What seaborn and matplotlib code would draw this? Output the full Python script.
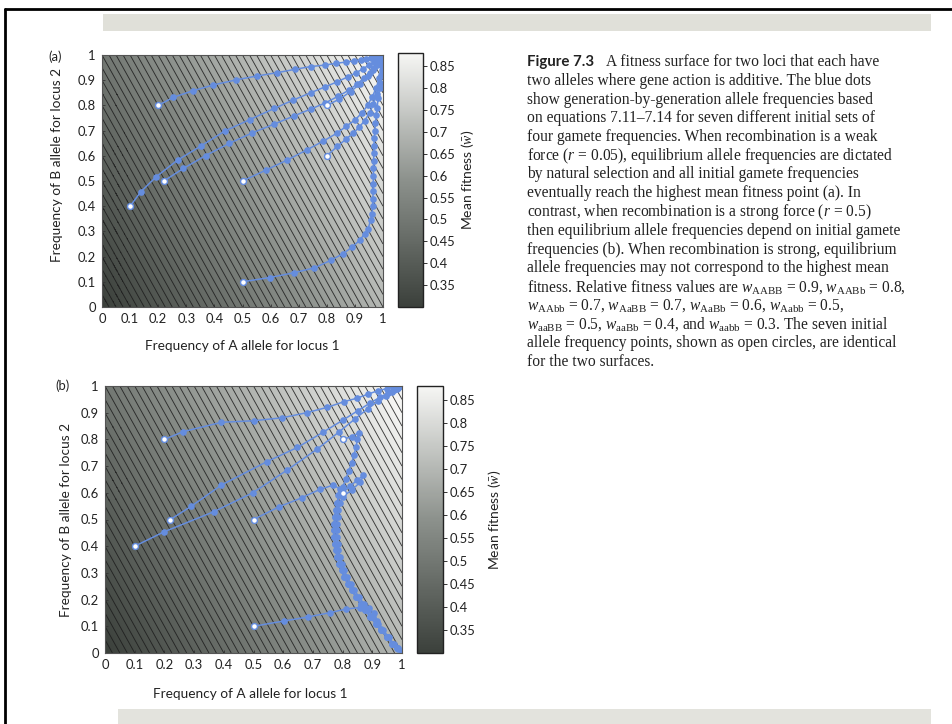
import numpy as np
import pandas as pd
import matplotlib
matplotlib.use("Agg")
import matplotlib.pyplot as plt
import seaborn as sns
from matplotlib.colors import LinearSegmentedColormap
from matplotlib.patches import Rectangle
from matplotlib.lines import Line2D

# relative genotype fitness values from the caption (rows: AA, Aa, aa; cols: BB, Bb, bb)
w_AA = [0.9, 0.8, 0.7]
w_Aa = [0.7, 0.6, 0.5]
w_aa = [0.5, 0.4, 0.3]

# seven initial allele frequencies (open circles), same for both panels
start_p = [0.2, 0.1, 0.22, 0.5, 0.8, 0.8, 0.5]
start_q = [0.8, 0.4, 0.5, 0.5, 0.6, 0.8, 0.1]

# (a) r = 0.05 : trajectories
a1 = [(0.2, 0.8), (0.254, 0.832), (0.323, 0.858), (0.396, 0.881), (0.476, 0.901), (0.553, 0.917),
      (0.624, 0.930), (0.686, 0.943), (0.742, 0.954), (0.793, 0.960), (0.834, 0.967), (0.867, 0.972),
      (0.897, 0.977), (0.92, 0.981), (0.94, 0.986), (0.957, 0.99), (0.97, 0.993), (0.982, 0.996), (1, 1)]
a2 = [(0.1, 0.4), (0.138, 0.457), (0.193, 0.517), (0.269, 0.583), (0.351, 0.638), (0.438, 0.699),
      (0.527, 0.744), (0.613, 0.788), (0.680, 0.821), (0.742, 0.850), (0.795, 0.874), (0.838, 0.894),
      (0.876, 0.914), (0.905, 0.930), (0.93, 0.946), (0.95, 0.96), (0.967, 0.972), (0.98, 0.982),
      (0.99, 0.991), (1, 1)]
a3 = [(0.22, 0.5), (0.29, 0.55), (0.369, 0.601), (0.452, 0.649), (0.535, 0.691), (0.613, 0.726),
      (0.683, 0.758), (0.742, 0.785), (0.795, 0.81), (0.84, 0.836), (0.878, 0.86), (0.908, 0.885),
      (0.932, 0.908), (0.952, 0.93), (0.968, 0.95), (0.98, 0.967), (0.99, 0.983), (1, 1)]
a4 = [(0.5, 0.5), (0.583, 0.543), (0.659, 0.583), (0.728, 0.623), (0.787, 0.658), (0.838, 0.691),
      (0.870, 0.718), (0.9, 0.742), (0.925, 0.77), (0.945, 0.8), (0.962, 0.835), (0.976, 0.87),
      (0.987, 0.91), (0.995, 0.955), (1, 1)]
a5 = [(0.8, 0.6), (0.838, 0.638), (0.867, 0.665), (0.893, 0.689), (0.915, 0.713), (0.935, 0.74),
      (0.952, 0.77), (0.966, 0.805), (0.978, 0.845), (0.988, 0.89), (0.995, 0.94), (1, 1)]
a6 = [(0.8, 0.8), (0.845, 0.825), (0.885, 0.855), (0.918, 0.885), (0.945, 0.915), (0.965, 0.94),
      (0.98, 0.962), (0.992, 0.982), (1, 1)]
a7 = [(0.5, 0.1), (0.598, 0.117), (0.683, 0.136), (0.755, 0.155), (0.814, 0.185), (0.858, 0.212),
      (0.891, 0.238), (0.917, 0.265), (0.935, 0.291), (0.947, 0.311), (0.956, 0.344), (0.961, 0.37),
      (0.963, 0.40), (0.964, 0.43), (0.965, 0.46), (0.965, 0.49), (0.966, 0.52), (0.966, 0.55),
      (0.967, 0.58), (0.967, 0.61), (0.968, 0.64), (0.969, 0.67), (0.971, 0.70), (0.973, 0.73),
      (0.976, 0.76), (0.979, 0.79), (0.983, 0.83), (0.988, 0.87), (0.993, 0.92), (0.997, 0.96), (1, 1)]

# (b) r = 0.5
b1 = [(0.2, 0.8), (0.263, 0.829), (0.392, 0.864), (0.502, 0.87), (0.597, 0.881), (0.679, 0.9),
      (0.748, 0.92), (0.804, 0.941), (0.847, 0.954), (0.887, 0.97), (0.92, 0.983), (0.948, 0.99),
      (0.97, 0.995), (0.988, 0.998), (1, 1)]
b2 = [(0.1, 0.4), (0.199, 0.454), (0.366, 0.529), (0.499, 0.601), (0.613, 0.685), (0.715, 0.764),
      (0.789, 0.829), (0.843, 0.878), (0.885, 0.915), (0.918, 0.943), (0.945, 0.963), (0.966, 0.978),
      (0.982, 0.99), (1, 1)]
b3 = [(0.22, 0.5), (0.291, 0.55), (0.392, 0.629), (0.544, 0.716), (0.648, 0.77), (0.733, 0.826),
      (0.802, 0.873), (0.852, 0.908), (0.892, 0.936), (0.925, 0.957), (0.952, 0.973), (0.972, 0.985),
      (0.988, 0.994), (1, 1)]
# thick converging band of panel (b): its inner and outer edge
crescent_in = [(0.782, 0.56), (0.777, 0.535), (0.774, 0.51), (0.772, 0.485), (0.771, 0.46),
               (0.772, 0.435), (0.774, 0.41), (0.777, 0.385), (0.782, 0.36), (0.789, 0.335),
               (0.797, 0.31), (0.805, 0.285), (0.817, 0.26), (0.83, 0.235), (0.845, 0.21),
               (0.861, 0.185), (0.877, 0.16), (0.893, 0.135), (0.911, 0.11), (0.93, 0.085),
               (0.949, 0.06), (0.968, 0.035), (0.984, 0.017), (1.0, 0.0)]
crescent_out = [(0.79, 0.56), (0.786, 0.535), (0.783, 0.51), (0.781, 0.485), (0.78, 0.46),
                (0.781, 0.435), (0.783, 0.41), (0.786, 0.385), (0.791, 0.36), (0.798, 0.335),
                (0.806, 0.31), (0.815, 0.285), (0.827, 0.26), (0.84, 0.235), (0.855, 0.21),
                (0.871, 0.185), (0.886, 0.16), (0.902, 0.135), (0.919, 0.11), (0.937, 0.085),
                (0.955, 0.06), (0.972, 0.035), (0.987, 0.017), (1.0, 0.0)]
b4 = [(0.5, 0.5), (0.587, 0.548), (0.662, 0.581), (0.724, 0.613), (0.769, 0.629), (0.79, 0.615),
      (0.786, 0.59)] + crescent_in
b5 = [(0.8, 0.6), (0.825, 0.625), (0.85, 0.648), (0.87, 0.665), (0.86, 0.64), (0.83, 0.61),
      (0.8, 0.585)] + crescent_out
b6 = [(0.8, 0.8), (0.83, 0.81), (0.855, 0.825), (0.85, 0.80), (0.845, 0.77), (0.838, 0.74),
      (0.83, 0.71), (0.82, 0.68), (0.81, 0.65), (0.8, 0.62), (0.79, 0.59)] + crescent_in
b7 = [(0.5, 0.1), (0.603, 0.12), (0.684, 0.135), (0.757, 0.151), (0.813, 0.165), (0.858, 0.17),
      (0.89, 0.168), (0.905, 0.15), (0.915, 0.12), (0.93, 0.09), (0.95, 0.06), (0.968, 0.035),
      (0.985, 0.015), (1, 0)]

axis_ticks = [0, 0.1, 0.2, 0.3, 0.4, 0.5, 0.6, 0.7, 0.8, 0.9, 1]
axis_labels = ['0', '0.1', '0.2', '0.3', '0.4', '0.5', '0.6', '0.7', '0.8', '0.9', '1']
cbar_ticks = [0.35, 0.4, 0.45, 0.5, 0.55, 0.6, 0.65, 0.7, 0.75, 0.8, 0.85]
cbar_labels = ['0.35', '0.4', '0.45', '0.5', '0.55', '0.6', '0.65', '0.7', '0.75', '0.8', '0.85']

caption = [
    "two alleles where gene action is additive. The blue dots",
    "show generation-by-generation allele frequencies based",
    "on equations 7.11\u20137.14 for seven different initial sets of",
    "four gamete frequencies. When recombination is a weak",
    "force ($r$ = 0.05), equilibrium allele frequencies are dictated",
    "by natural selection and all initial gamete frequencies",
    "eventually reach the highest mean fitness point (a). In",
    "contrast, when recombination is a strong force ($r$ = 0.5)",
    "then equilibrium allele frequencies depend on initial gamete",
    "frequencies (b). When recombination is strong, equilibrium",
    "allele frequencies may not correspond to the highest mean",
    r"fitness. Relative fitness values are $w_{\mathrm{AABB}}$ = 0.9, $w_{\mathrm{AABb}}$ = 0.8,",
    r"$w_{\mathrm{AAbb}}$ = 0.7, $w_{\mathrm{AaBB}}$ = 0.7, $w_{\mathrm{AaBb}}$ = 0.6, $w_{\mathrm{Aabb}}$ = 0.5,",
    r"$w_{\mathrm{aaBB}}$ = 0.5, $w_{\mathrm{aaBb}}$ = 0.4, and $w_{\mathrm{aabb}}$ = 0.3. The seven initial",
    "allele frequency points, shown as open circles, are identical",
    "for the two surfaces.",
]

sns.set_theme(style="white")
plt.rcParams['font.family'] = ['Lato', 'DejaVu Sans']
plt.rcParams['mathtext.fontset'] = 'custom'
plt.rcParams['mathtext.rm'] = 'Liberation Serif'
plt.rcParams['mathtext.it'] = 'Liberation Serif:italic'

W, H = 952, 724
fig = plt.figure(figsize=(W / 100, H / 100), dpi=100)
fig.patch.set_facecolor('white')


def px(x0, y0, x1, y1):
    return [x0 / W, 1 - y1 / H, (x1 - x0) / W, (y1 - y0) / H]


# page frame and grey bands of the scan
fig.add_artist(Rectangle((103 / W, 1 - 31 / H), 828 / W, 17 / H, transform=fig.transFigure,
                         color='#e0e0d9', lw=0, zorder=0))
fig.add_artist(Rectangle((118 / W, 0), 813 / W, 15 / H, transform=fig.transFigure,
                         color='#e3e3dd', lw=0, zorder=0))
fig.add_artist(Line2D([5 / W, 1], [1 - 9 / H, 1 - 9 / H], transform=fig.transFigure, color='black', lw=2))
fig.add_artist(Line2D([5 / W, 5 / W], [0, 1 - 9 / H], transform=fig.transFigure, color='black', lw=2))

# mean fitness surface from genotype fitnesses (HW and linkage equilibrium)
grid = np.linspace(0, 1, 301)
P, Q = np.meshgrid(grid, grid)
fa = [P ** 2, 2 * P * (1 - P), (1 - P) ** 2]
fb = [Q ** 2, 2 * Q * (1 - Q), (1 - Q) ** 2]
wmat = [w_AA, w_Aa, w_aa]
wbar = sum(fa[i] * fb[j] * wmat[i][j] for i in range(3) for j in range(3))

cmap = LinearSegmentedColormap.from_list('scan', ['#3b403b', '#8c918c', '#f6f6f4'])
blue = '#658dde'


def traj_frame(trajs):
    rows = []
    for k, t in enumerate(trajs):
        for step, (p, q) in enumerate(t):
            rows.append({'traj': k, 'step': step, 'p': p, 'q': q})
    return pd.DataFrame(rows)


panels = [
    ('(a)', [a1, a2, a3, a4, a5, a6, a7], px(102, 55, 383, 307), px(398, 53, 423, 307),
     (55, 57), (-0.139, 0.565), (0.498, -0.13), 2.45),
    ('(b)', [b1, b2, b3, b4, b5, b6, b7], px(105, 386, 402, 653), px(417, 386, 443, 653),
     (63, 386), (-0.111, 0.5), (0.49, -0.13), 2.65),
]

for tag, trajs, rect, crect, tagpos, ylab, xlab, cbx in panels:
    ax = fig.add_axes(rect)
    im = ax.imshow(wbar, extent=[0, 1, 0, 1], origin='lower', cmap=cmap, vmin=0.3, vmax=0.88,
                   aspect='auto', interpolation='bilinear')
    ax.contour(P, Q, wbar, levels=np.arange(0.31, 0.9, 0.01), colors='#1c1c1c',
               linewidths=0.65, alpha=0.85)
    df = traj_frame(trajs)
    sns.lineplot(data=df, x='p', y='q', units='traj', estimator=None, sort=False, color=blue,
                 lw=1.1, marker='o', markersize=4.8, markeredgewidth=0, ax=ax, legend=False)
    sns.scatterplot(x=start_p, y=start_q, ax=ax, color='white', edgecolor=blue, s=18,
                    linewidth=1.0, zorder=5)
    ax.set_xlim(0, 1)
    ax.set_ylim(0, 1)
    ax.set_xticks(axis_ticks)
    ax.set_xticklabels(axis_labels)
    ax.set_yticks(axis_ticks)
    ax.set_yticklabels(axis_labels)
    ax.tick_params(direction='in', length=2.5, width=0.6, color='#333333', labelsize=9.4,
                   pad=4.5, left=True, bottom=True, labelcolor='#222222')
    for s in ax.spines.values():
        s.set_color('#555555')
        s.set_linewidth(0.8)
    ax.set_xlabel('Frequency of A allele for locus 1', fontsize=9.8, color='#222222')
    ax.set_ylabel('Frequency of B allele for locus 2', fontsize=9.8, color='#222222')
    ax.xaxis.set_label_coords(*xlab)
    ax.yaxis.set_label_coords(*ylab)
    fig.text(tagpos[0] / W, 1 - tagpos[1] / H, tag, fontsize=9.4, ha='center', va='center',
             color='#222222')

    cax = fig.add_axes(crect)
    cb = fig.colorbar(im, cax=cax)
    cb.set_ticks(cbar_ticks)
    cb.set_ticklabels(cbar_labels)
    cb.outline.set_linewidth(1.0)
    cb.outline.set_edgecolor('#222222')
    cax.tick_params(direction='inout', length=6, width=0.7, color='#333333', labelsize=9.4,
                    pad=1.5, right=True, labelcolor='#222222')
    cb.set_label(r'Mean fitness ($\bar{w}$)', fontsize=10, color='#222222')
    cax.yaxis.set_label_coords(cbx, 0.5)

# caption
cap_x = 527 / W
line_h = 18.75
fig.text(cap_x, 1 - 62 / H, 'Figure 7.3', fontsize=10.8, fontweight='bold', va='center',
         color='#222222')
fig.text(606 / W, 1 - 62 / H, 'A fitness surface for two loci that each have', fontsize=11.2,
         family='Liberation Serif', va='center', color='#222222')
for i, line in enumerate(caption):
    fig.text(cap_x, 1 - (62 + (i + 1) * line_h) / H, line, fontsize=11.2, family='Liberation Serif',
             va='center', color='#222222')

fig.savefig('out.png', dpi=100)
